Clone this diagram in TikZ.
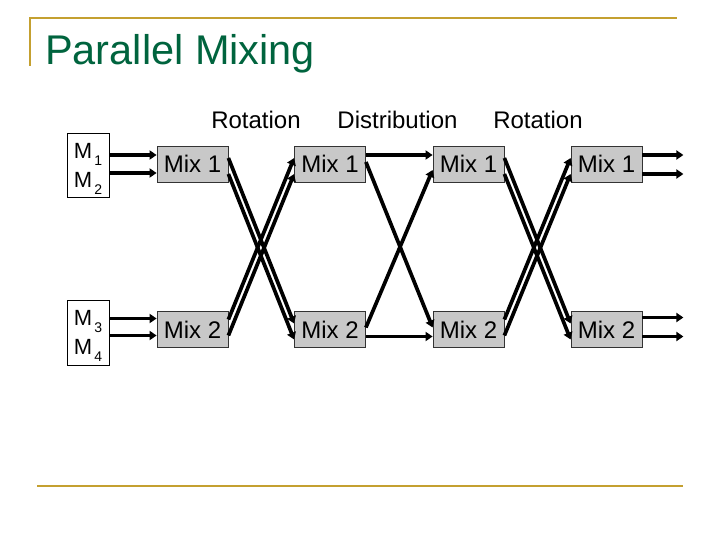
\documentclass[tikz,border=0pt]{standalone}
\usepackage{fontspec}
\setmainfont{Liberation Sans}
\usetikzlibrary{arrows.meta}
\definecolor{gold}{RGB}{196,160,48}
\definecolor{titlegreen}{RGB}{0,100,62}
\definecolor{mixgray}{RGB}{200,200,200}
\newcommand{\msub}[1]{\hspace{2pt}\raisebox{-7pt}[0pt][0pt]{\fontsize{14}{14}\selectfont #1}}
\begin{document}
\begin{tikzpicture}[x=1pt,y=-1pt,
  mixbox/.style={draw=black!80, fill=mixgray, line width=0.8pt, minimum width=71pt, minimum height=36pt, inner sep=0pt, font=\fontsize{24}{28}\selectfont},
  inbox/.style={draw=black, fill=white, line width=0.8pt, minimum width=42pt, inner sep=0pt, align=left, font=\fontsize{22}{29}\selectfont},
  arr/.style={line width=3.7pt, -{Triangle[length=7pt,width=9pt]}},
  phase/.style={anchor=base, inner sep=0pt, font=\fontsize{24}{28}\selectfont},
  rule/.style={draw=gold, line width=2.5pt}]
\fill[white] (0,0) rectangle (720,540);
\useasboundingbox (0,0) rectangle (720,540);
% rules
\draw[rule] (30,66) -- (30,18) -- (677,18);
\draw[rule] (37,486) -- (683,486);
% title
\node[anchor=base west, inner sep=0pt, text=titlegreen, font=\fontsize{41.5}{45}\selectfont] (title) at (45,65) {Parallel Mixing};
% phase labels
\node[phase] (p1) at (256,129) {Rotation};
\node[phase] (p2) at (397.5,129) {Distribution};
\node[phase] (p3) at (538,129) {Rotation};
% input boxes
\node[inbox, minimum height=64pt] (m12) at (88,165) {M\msub{1}\\M\msub{2}};
\node[inbox, minimum height=65pt] (m34) at (88,332.5) {M\msub{3}\\M\msub{4}};
% mix boxes
\node[mixbox] (a1) at (192.5,164) {Mix 1};
\node[mixbox] (a2) at (192.5,329.5) {Mix 2};
\node[mixbox] (b1) at (330,164) {Mix 1};
\node[mixbox] (b2) at (330,329.5) {Mix 2};
\node[mixbox] (c1) at (468.5,164) {Mix 1};
\node[mixbox] (c2) at (468.5,329.5) {Mix 2};
\node[mixbox] (d1) at (606.5,164) {Mix 1};
\node[mixbox] (d2) at (606.5,329.5) {Mix 2};
% input arrows
\coordinate (a1u) at ([yshift=9pt]a1.west);
\coordinate (a1d) at ([yshift=-9pt]a1.west);
\coordinate (a2u) at ([yshift=11pt]a2.west);
\coordinate (a2d) at ([yshift=-6pt]a2.west);
\draw[arr] (m12.east |- a1u) -- (a1u);
\draw[arr] (m12.east |- a1d) -- (a1d);
\draw[arr] (m34.east |- a2u) -- (a2u);
\draw[arr] (m34.east |- a2d) -- (a2d);
% rotation 1
\draw[arr] ([yshift=6pt]a1.east) -- ([yshift=6pt]b2.west);
\draw[arr] ([yshift=-10pt]a1.east) -- ([yshift=-10pt]b2.west);
\draw[arr] ([yshift=10pt]a2.east) -- ([yshift=6pt]b1.west);
\draw[arr] ([yshift=-6pt]a2.east) -- ([yshift=-10pt]b1.west);
% distribution
\draw[arr] ([yshift=9pt]b1.east) -- ([yshift=9pt]c1.west);
\draw[arr] ([yshift=2pt]b1.east) -- ([yshift=2pt]c2.west);
\draw[arr] ([yshift=2pt]b2.east) -- ([yshift=-6pt]c1.west);
\draw[arr] ([yshift=-7pt]b2.east) -- ([yshift=-7pt]c2.west);
% rotation 2
\draw[arr] ([yshift=6pt]c1.east) -- ([yshift=6pt]d2.west);
\draw[arr] ([yshift=-10pt]c1.east) -- ([yshift=-10pt]d2.west);
\draw[arr] ([yshift=10pt]c2.east) -- ([yshift=6pt]d1.west);
\draw[arr] ([yshift=-6pt]c2.east) -- ([yshift=-10pt]d1.west);
% outputs
\coordinate (o1) at ([xshift=41pt,yshift=9pt]d1.east);
\coordinate (o2) at ([xshift=41pt,yshift=-10pt]d1.east);
\coordinate (o3) at ([xshift=41pt,yshift=12pt]d2.east);
\coordinate (o4) at ([xshift=41pt,yshift=-7pt]d2.east);
\draw[arr] (d1.east |- o1) -- (o1);
\draw[arr] (d1.east |- o2) -- (o2);
\draw[arr] (d2.east |- o3) -- (o3);
\draw[arr] (d2.east |- o4) -- (o4);
\end{tikzpicture}
\end{document}
